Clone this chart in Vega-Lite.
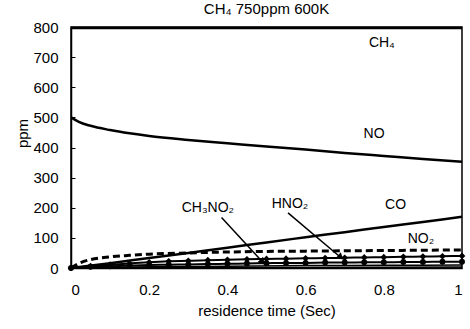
{
  "$schema": "https://vega.github.io/schema/vega-lite/v6.json",
  "width": 391,
  "height": 241,
  "autosize": "none",
  "padding": {"left": 71, "top": 27, "right": 8, "bottom": 61},
  "background": "white",
  "config": {
    "font": "Liberation Sans",
    "view": {"stroke": "black", "strokeWidth": 1.5},
    "axis": {"grid": false, "domainColor": "black", "domainWidth": 1.5, "labelColor": "black", "titleColor": "black", "labelFont": "Liberation Sans", "titleFont": "Liberation Sans", "labelFontSize": 15, "titleFontSize": 15, "titleFontWeight": "normal", "labelOverlap": false}
  },
  "title": {"text": "CH₄ 750ppm 600K", "fontSize": 15, "fontWeight": "normal", "font": "Liberation Sans", "color": "black", "offset": 3},
  "datasets": {
    "lines": [
      {"s": "CH4", "t": 0, "v": 797}, {"s": "CH4", "t": 0.5, "v": 797}, {"s": "CH4", "t": 1, "v": 797},
      {"s": "NO", "t": 0, "v": 500}, {"s": "NO", "t": 0.02, "v": 485}, {"s": "NO", "t": 0.05, "v": 472}, {"s": "NO", "t": 0.1, "v": 458}, {"s": "NO", "t": 0.15, "v": 447}, {"s": "NO", "t": 0.2, "v": 438}, {"s": "NO", "t": 0.3, "v": 425}, {"s": "NO", "t": 0.4, "v": 414}, {"s": "NO", "t": 0.5, "v": 403}, {"s": "NO", "t": 0.6, "v": 393}, {"s": "NO", "t": 0.7, "v": 382}, {"s": "NO", "t": 0.8, "v": 372}, {"s": "NO", "t": 0.9, "v": 362}, {"s": "NO", "t": 1, "v": 353},
      {"s": "CO", "t": 0, "v": 0}, {"s": "CO", "t": 0.1, "v": 16}, {"s": "CO", "t": 0.2, "v": 33}, {"s": "CO", "t": 0.3, "v": 50}, {"s": "CO", "t": 0.4, "v": 67}, {"s": "CO", "t": 0.5, "v": 85}, {"s": "CO", "t": 0.6, "v": 102}, {"s": "CO", "t": 0.7, "v": 119}, {"s": "CO", "t": 0.8, "v": 136}, {"s": "CO", "t": 0.9, "v": 153}, {"s": "CO", "t": 1, "v": 170},
      {"s": "NO2", "t": 0, "v": 0}, {"s": "NO2", "t": 0.025, "v": 18}, {"s": "NO2", "t": 0.05, "v": 28}, {"s": "NO2", "t": 0.1, "v": 37}, {"s": "NO2", "t": 0.15, "v": 42}, {"s": "NO2", "t": 0.2, "v": 46}, {"s": "NO2", "t": 0.3, "v": 50}, {"s": "NO2", "t": 0.4, "v": 53}, {"s": "NO2", "t": 0.5, "v": 55}, {"s": "NO2", "t": 0.6, "v": 56}, {"s": "NO2", "t": 0.7, "v": 57}, {"s": "NO2", "t": 0.8, "v": 58}, {"s": "NO2", "t": 0.9, "v": 59}, {"s": "NO2", "t": 1, "v": 60},
      {"s": "X", "t": 0, "v": 0}, {"s": "X", "t": 0.2, "v": 4}, {"s": "X", "t": 0.4, "v": 6}, {"s": "X", "t": 0.6, "v": 8}, {"s": "X", "t": 0.8, "v": 9}, {"s": "X", "t": 1, "v": 10},
      {"s": "Y", "t": 0, "v": 0}, {"s": "Y", "t": 0.5, "v": 2}, {"s": "Y", "t": 1, "v": 3}
    ],
    "markers": [
      {"s": "HNO2", "t": 0, "v": 0}, {"s": "HNO2", "t": 0.05, "v": 6}, {"s": "HNO2", "t": 0.1, "v": 11}, {"s": "HNO2", "t": 0.15, "v": 15}, {"s": "HNO2", "t": 0.2, "v": 19}, {"s": "HNO2", "t": 0.25, "v": 22}, {"s": "HNO2", "t": 0.3, "v": 24}, {"s": "HNO2", "t": 0.35, "v": 26}, {"s": "HNO2", "t": 0.4, "v": 27}, {"s": "HNO2", "t": 0.45, "v": 29}, {"s": "HNO2", "t": 0.5, "v": 30}, {"s": "HNO2", "t": 0.55, "v": 31}, {"s": "HNO2", "t": 0.6, "v": 32}, {"s": "HNO2", "t": 0.65, "v": 33}, {"s": "HNO2", "t": 0.7, "v": 34}, {"s": "HNO2", "t": 0.75, "v": 35}, {"s": "HNO2", "t": 0.8, "v": 36}, {"s": "HNO2", "t": 0.85, "v": 37}, {"s": "HNO2", "t": 0.9, "v": 38}, {"s": "HNO2", "t": 0.95, "v": 39}, {"s": "HNO2", "t": 1, "v": 40},
      {"s": "CH3NO2", "t": 0, "v": 0}, {"s": "CH3NO2", "t": 0.05, "v": 4}, {"s": "CH3NO2", "t": 0.1, "v": 6}, {"s": "CH3NO2", "t": 0.15, "v": 8}, {"s": "CH3NO2", "t": 0.2, "v": 10}, {"s": "CH3NO2", "t": 0.25, "v": 11}, {"s": "CH3NO2", "t": 0.3, "v": 12}, {"s": "CH3NO2", "t": 0.35, "v": 13}, {"s": "CH3NO2", "t": 0.4, "v": 14}, {"s": "CH3NO2", "t": 0.45, "v": 15}, {"s": "CH3NO2", "t": 0.5, "v": 16}, {"s": "CH3NO2", "t": 0.55, "v": 17}, {"s": "CH3NO2", "t": 0.6, "v": 17}, {"s": "CH3NO2", "t": 0.65, "v": 18}, {"s": "CH3NO2", "t": 0.7, "v": 18}, {"s": "CH3NO2", "t": 0.75, "v": 19}, {"s": "CH3NO2", "t": 0.8, "v": 19}, {"s": "CH3NO2", "t": 0.85, "v": 20}, {"s": "CH3NO2", "t": 0.9, "v": 20}, {"s": "CH3NO2", "t": 0.95, "v": 21}, {"s": "CH3NO2", "t": 1, "v": 21}
    ],
    "labels": [
      {"label": "CH₄", "t": 0.795, "v": 748},
      {"label": "NO", "t": 0.775, "v": 445},
      {"label": "CO", "t": 0.83, "v": 210},
      {"label": "NO₂", "t": 0.895, "v": 97},
      {"label": "CH₃NO₂", "t": 0.35, "v": 200},
      {"label": "HNO₂", "t": 0.56, "v": 213}
    ],
    "arrows": [
      {"name": "CH3NO2", "t": 0.385, "v": 168, "t2": 0.49, "v2": 20},
      {"name": "HNO2", "t": 0.555, "v": 183, "t2": 0.69, "v2": 35}
    ]
  },
  "layer": [
    {
      "data": {"name": "lines"},
      "transform": [{"filter": "datum.s === 'NO' || datum.s === 'CO' || datum.s === 'CH4'"}],
      "mark": {"type": "line", "color": "black", "strokeWidth": 2.5, "interpolate": "monotone"},
      "encoding": {
        "x": {"field": "t", "type": "quantitative", "scale": {"domain": [0, 1], "nice": false}, "axis": {"values": [0, 0.2, 0.4, 0.6, 0.8, 1], "format": "~g", "ticks": false, "labelPadding": 14, "title": "residence time (Sec)", "titlePadding": 6, "labelOverlap": false}},
        "y": {"field": "v", "type": "quantitative", "scale": {"domain": [0, 800], "nice": false}, "axis": {"values": [0, 100, 200, 300, 400, 500, 600, 700, 800], "tickCount": 9, "labelOverlap": false, "tickSize": -4, "tickColor": "black", "labelPadding": 17, "title": "ppm", "titleX": -56, "titleY": 106, "titleAngle": -90, "titleBaseline": "top", "titleAlign": "center"}},
        "detail": {"field": "s"}
      }
    },
    {
      "data": {"name": "lines"},
      "transform": [{"filter": "datum.s === 'NO2'"}],
      "mark": {"type": "line", "color": "black", "strokeWidth": 3, "strokeDash": [7, 4], "interpolate": "monotone"},
      "encoding": {"x": {"field": "t", "type": "quantitative"}, "y": {"field": "v", "type": "quantitative"}}
    },
    {
      "data": {"name": "lines"},
      "transform": [{"filter": "datum.s === 'X' || datum.s === 'Y'"}],
      "mark": {"type": "line", "color": "black", "strokeWidth": 1.5, "interpolate": "monotone"},
      "encoding": {"x": {"field": "t", "type": "quantitative"}, "y": {"field": "v", "type": "quantitative"}, "detail": {"field": "s"}}
    },
    {
      "data": {"name": "markers"},
      "mark": {"type": "line", "color": "black", "strokeWidth": 2, "interpolate": "monotone"},
      "encoding": {"x": {"field": "t", "type": "quantitative"}, "y": {"field": "v", "type": "quantitative"}, "detail": {"field": "s"}}
    },
    {
      "data": {"name": "markers"},
      "transform": [{"filter": "datum.s === 'HNO2'"}],
      "mark": {"type": "point", "shape": "diamond", "filled": true, "color": "black", "size": 45, "opacity": 1},
      "encoding": {"x": {"field": "t", "type": "quantitative"}, "y": {"field": "v", "type": "quantitative"}}
    },
    {
      "data": {"name": "markers"},
      "transform": [{"filter": "datum.s === 'CH3NO2'"}],
      "mark": {"type": "point", "shape": "circle", "filled": true, "color": "black", "size": 35, "opacity": 1},
      "encoding": {"x": {"field": "t", "type": "quantitative"}, "y": {"field": "v", "type": "quantitative"}}
    },
    {
      "data": {"name": "arrows"},
      "mark": {"type": "rule", "color": "black", "strokeWidth": 1.5},
      "encoding": {"x": {"field": "t", "type": "quantitative"}, "y": {"field": "v", "type": "quantitative"}, "x2": {"field": "t2"}, "y2": {"field": "v2"}}
    },
    {
      "data": {"name": "arrows"},
      "transform": [{"filter": "datum.name === 'CH3NO2'"}],
      "mark": {"type": "point", "shape": "triangle-up", "filled": true, "color": "black", "size": 60, "opacity": 1, "angle": 136},
      "encoding": {"x": {"field": "t2", "type": "quantitative"}, "y": {"field": "v2", "type": "quantitative"}}
    },
    {
      "data": {"name": "arrows"},
      "transform": [{"filter": "datum.name === 'HNO2'"}],
      "mark": {"type": "point", "shape": "triangle-up", "filled": true, "color": "black", "size": 60, "opacity": 1, "angle": 130},
      "encoding": {"x": {"field": "t2", "type": "quantitative"}, "y": {"field": "v2", "type": "quantitative"}}
    },
    {
      "data": {"name": "labels"},
      "mark": {"type": "text", "color": "black", "fontSize": 14, "font": "Liberation Sans", "align": "center", "baseline": "middle"},
      "encoding": {"x": {"field": "t", "type": "quantitative"}, "y": {"field": "v", "type": "quantitative"}, "text": {"field": "label"}}
    }
  ]
}
